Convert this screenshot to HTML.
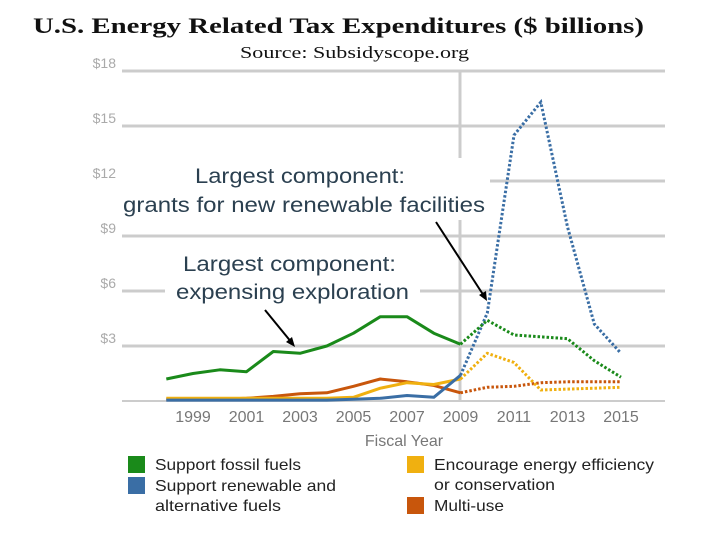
<!DOCTYPE html>
<html><head><meta charset="utf-8"><style>
body{margin:0;background:#fff;width:720px;height:540px;overflow:hidden}
svg text{font-family:"Liberation Sans","DejaVu Sans",sans-serif}
</style></head><body>
<svg width="720" height="540">
<text x="33" y="33" textLength="611" lengthAdjust="spacingAndGlyphs" style="font-family:'Liberation Serif',serif;font-weight:bold;font-size:22px" fill="#111">U.S. Energy Related Tax Expenditures ($ billions)</text>
<text x="240" y="58" textLength="229" lengthAdjust="spacingAndGlyphs" style="font-family:'Liberation Serif',serif;font-size:17px" fill="#111">Source:  Subsidyscope.org</text>
<g id="grid"></g>
<g id="yt"></g>
<g id="xt"></g>
<line x1="460" y1="71" x2="460" y2="401" stroke="#ccc" stroke-width="3"/>
<g id="series"></g>
<rect x="120" y="158" width="370" height="62" fill="#fff"/>
<text x="195" y="183" textLength="210" lengthAdjust="spacingAndGlyphs" font-size="21" fill="#2b4050">Largest component:</text>
<text x="123" y="212" textLength="362" lengthAdjust="spacingAndGlyphs" font-size="21" fill="#2b4050">grants for new renewable facilities</text>
<rect x="165" y="246" width="255" height="60" fill="#fff"/>
<text x="183" y="271" textLength="213" lengthAdjust="spacingAndGlyphs" font-size="21" fill="#2b4050">Largest component:</text>
<text x="176" y="299" textLength="233" lengthAdjust="spacingAndGlyphs" font-size="21" fill="#2b4050">expensing exploration</text>
<line x1="265" y1="310" x2="292" y2="343" stroke="#000" stroke-width="2"/>
<polygon points="295,347 286,342 292,337" fill="#000"/>
<line x1="436" y1="222" x2="484" y2="296" stroke="#000" stroke-width="2"/>
<polygon points="487,301 479,295 486,291" fill="#000"/>
<text x="404" y="446" text-anchor="middle" font-size="16" fill="#777">Fiscal Year</text>
<g>
<rect x="128" y="456" width="17" height="17" fill="#1a8a1a"/>
<text x="155" y="470" textLength="146" lengthAdjust="spacingAndGlyphs" font-size="16" fill="#222">Support fossil fuels</text>
<rect x="128" y="477" width="17" height="17" fill="#3a6ea5"/>
<text x="155" y="491" textLength="181" lengthAdjust="spacingAndGlyphs" font-size="16" fill="#222">Support renewable and</text>
<text x="155" y="511" textLength="126" lengthAdjust="spacingAndGlyphs" font-size="16" fill="#222">alternative fuels</text>
<rect x="407" y="456" width="17" height="17" fill="#f0b010"/>
<text x="434" y="470" textLength="220" lengthAdjust="spacingAndGlyphs" font-size="16" fill="#222">Encourage energy efficiency</text>
<text x="434" y="490" textLength="121" lengthAdjust="spacingAndGlyphs" font-size="16" fill="#222">or conservation</text>
<rect x="407" y="497" width="17" height="17" fill="#c8560c"/>
<text x="434" y="511" textLength="70" lengthAdjust="spacingAndGlyphs" font-size="16" fill="#222">Multi-use</text>
</g>
</svg>
<script>
const years=[1998,1999,2000,2001,2002,2003,2004,2005,2006,2007,2008,2009,2010,2011,2012,2013,2014,2015];
const fossil=[1.2,1.5,1.7,1.6,2.7,2.6,3.0,3.7,4.6,4.6,3.7,3.1,4.4,3.6,3.5,3.4,2.2,1.3];
const renewable=[0.05,0.05,0.05,0.05,0.05,0.05,0.05,0.1,0.15,0.3,0.2,1.4,4.8,14.5,16.3,9.5,4.2,2.6];
const efficiency=[0.15,0.15,0.15,0.15,0.15,0.15,0.15,0.2,0.7,1.0,0.9,1.2,2.6,2.1,0.6,0.65,0.7,0.75];
const multiuse=[0.1,0.1,0.1,0.15,0.25,0.4,0.45,0.8,1.2,1.05,0.85,0.45,0.75,0.8,1.0,1.05,1.05,1.05];
const yTicks=[3,6,9,12,15,18];
const xTicks=[1999,2001,2003,2005,2007,2009,2011,2013,2015];
const forecastStart=2009;
const NS="http://www.w3.org/2000/svg";
const X=y=>193+(y-1999)*26.75;
const Y=v=>401-v*18.33;
function mk(t,a,p){const e=document.createElementNS(NS,t);for(const k in a)e.setAttribute(k,a[k]);p.appendChild(e);return e;}
const grid=document.getElementById('grid'),yt=document.getElementById('yt'),xt=document.getElementById('xt'),sg=document.getElementById('series');
mk('line',{x1:122,x2:665,y1:Y(0),y2:Y(0),stroke:'#ccc','stroke-width':2},grid);
yTicks.forEach(v=>{
 const l=mk('line',{x1:122,x2:665,y1:Y(v),y2:Y(v),stroke:'#ccc','stroke-width':3},grid);
 
 
 const t=mk('text',{x:116,y:Y(v)-3,'text-anchor':'end','font-size':14,fill:'#aaa'},yt);
 
 
 t.textContent='$'+v;
});
xTicks.forEach(y=>{
 const t=mk('text',{x:X(y),y:422,'text-anchor':'middle','font-size':16,fill:'#777'},xt);
 
 
 t.textContent=y;
});
function draw(vals,color,name){
 const hist=[],fut=[];
 years.forEach((y,i)=>{const p=X(y).toFixed(1)+','+Y(vals[i]).toFixed(1);if(y<=forecastStart)hist.push(p);if(y>=forecastStart)fut.push(p);});
 const a=mk('polyline',{points:hist.join(' '),fill:'none',stroke:color,'stroke-width':3,'stroke-linejoin':'round'},sg);
 
 
 const b=mk('polyline',{points:fut.join(' '),fill:'none',stroke:color,'stroke-width':3,'stroke-dasharray':'2.5,2'},sg);
 
 
}
draw(multiuse,'#c8560c','multiuse');
draw(efficiency,'#f0b010','efficiency');
draw(renewable,'#3a6ea5','renewable');
draw(fossil,'#1a8a1a','fossil');
</script>
</body></html>
